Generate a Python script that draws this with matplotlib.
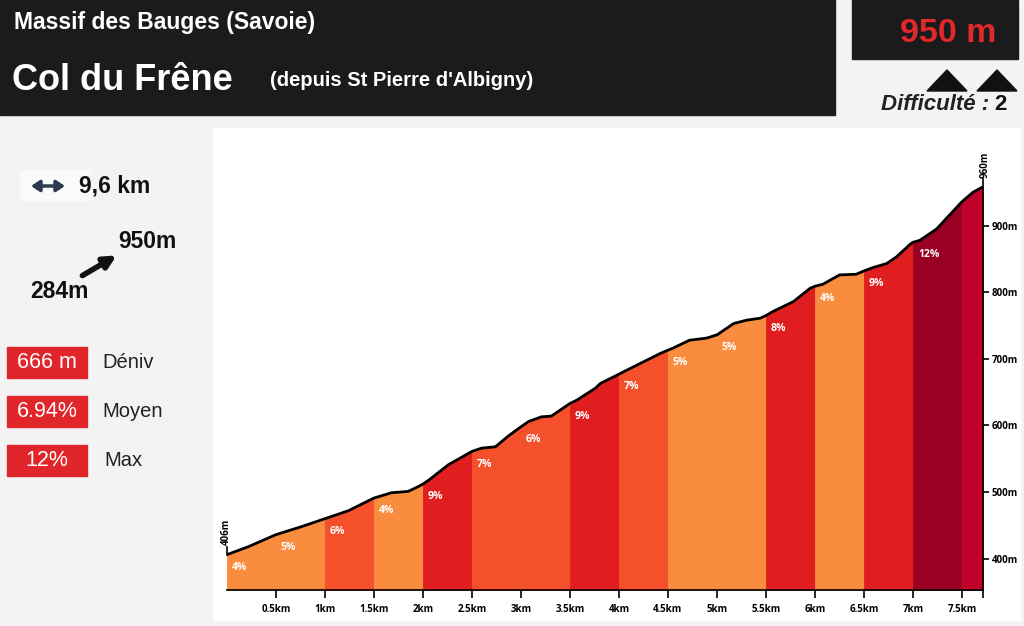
import numpy as np
import matplotlib.pyplot as plt
from matplotlib.patches import Rectangle, Polygon, FancyArrowPatch

# profile (km, m)
dist = [0.0, 0.22, 0.5, 0.76, 1.0, 1.24, 1.5, 1.68, 1.85, 1.95, 2.0, 2.06, 2.26,
        2.5, 2.6, 2.74, 2.87, 3.0, 3.08, 3.21, 3.31, 3.48, 3.5, 3.57, 3.76, 3.81,
        4.0, 4.08, 4.42, 4.5, 4.55, 4.72, 4.89, 5.0, 5.17, 5.3, 5.44, 5.5, 5.57,
        5.78, 5.95, 6.0, 6.08, 6.25, 6.42, 6.5, 6.59, 6.73, 6.83, 6.97, 7.0, 7.07,
        7.24, 7.48, 7.5, 7.61, 7.71]
elev = [406, 418, 436, 448, 460, 472, 491, 499, 501, 508, 512, 518, 541,
        561, 566, 568, 584, 598, 606, 613, 614, 631, 633, 638, 656, 663,
        677, 683, 708, 713, 716, 728, 731, 736, 753, 758, 761, 765, 771,
        786, 806, 809, 812, 826, 827, 832, 837, 843, 853, 872, 875, 878,
        895, 933, 936, 950, 958]

seg_start = [0, 0.5, 1, 1.5, 2, 2.5, 3, 3.5, 4, 4.5, 5, 5.5, 6, 6.5, 7, 7.5]
seg_end = seg_start[1:] + [7.71]
seg_label = ['4%', '5%', '6%', '4%', '9%', '7%', '6%', '9%', '7%', '5%', '5%',
             '8%', '4%', '9%', '12%', '']

ORANGE = '#F98C3E'
RORANGE = '#F5502C'
RED = '#E01E20'
MAROON = '#990022'
CRIMSON = '#C0022A'
seg_color = [ORANGE, ORANGE, RORANGE, ORANGE, RED, RORANGE, RORANGE, RED, RORANGE,
             ORANGE, ORANGE, RED, ORANGE, RED, MAROON, CRIMSON]

xticks = [0.5, 1, 1.5, 2, 2.5, 3, 3.5, 4, 4.5, 5, 5.5, 6, 6.5, 7, 7.5, 7.71]
xlabels = ['0.5km', '1km', '1.5km', '2km', '2.5km', '3km', '3.5km', '4km', '4.5km',
           '5km', '5.5km', '6km', '6.5km', '7km', '7.5km', '']
yticks = [400, 500, 600, 700, 800, 900]

W, H = 1024, 626
def fx(x):
    return x / W
def fy(y):
    return 1 - y / H

fig = plt.figure(figsize=(W / 100, H / 100), dpi=100)
fig.patch.set_facecolor('#F3F3F3')
FONT = 'Liberation Sans'

def box(x0, y0, x1, y1, c, z=-10):
    fig.patches.append(Rectangle((fx(x0), fy(y1)), fx(x1 - x0), (y1 - y0) / H,
                                 transform=fig.transFigure, color=c, zorder=z))

# panels
box(213, 128, 1020, 620, 'white')
box(0, 0, 835, 115, '#1B1A1D')
box(852, 0, 1018, 59, '#1B1A1D')
for x0 in [927, 977]:
    tri = [(fx(x0), fy(91)), (fx(x0 + 40), fy(91)), (fx(x0 + 20), fy(70))]
    fig.patches.append(Polygon(tri, closed=True, transform=fig.transFigure,
                               color='#111111'))

# header text
fig.text(fx(14), fy(22), 'Massif des Bauges (Savoie)', color='white', fontsize=16.5,
         fontweight='bold', family=FONT, va='center')
fig.text(fx(12), fy(80), 'Col du Frêne', color='white', fontsize=26,
         fontweight='bold', family=FONT, va='center')
fig.text(fx(270), fy(80), "(depuis St Pierre d'Albigny)", color='white', fontsize=14.5,
         fontweight='bold', family=FONT, va='center')
fig.text(fx(948), fy(33), '950 m', color='#E1282A', fontsize=24.5, fontweight='bold',
         family=FONT, va='center', ha='center')
fig.text(fx(989), fy(105), 'Difficulté :', color='#222222', fontsize=16,
         fontweight='bold', style='italic', family=FONT, va='center', ha='right')
fig.text(fx(994), fy(105), '2', color='#111111', fontsize=16, fontweight='bold',
         family=FONT, va='center', ha='left')

# left info panel
box(20, 170, 90, 200, '#F9FAFB')
fig.patches.append(FancyArrowPatch(
    (fx(31), fy(186)), (fx(65), fy(186)), transform=fig.transFigure,
    arrowstyle='<|-|>,head_length=0.45,head_width=0.3', mutation_scale=11, lw=2.5,
    shrinkA=0, shrinkB=0, color='#2B3A50'))
fig.text(fx(79), fy(186), '9,6 km', fontsize=16.5, fontweight='bold', family=FONT,
         va='center', color='#111111')
fig.text(fx(118), fy(242), '950m', fontsize=16.5, fontweight='bold', family=FONT,
         va='center', color='#111111')
fig.text(fx(30), fy(291), '284m', fontsize=16.5, fontweight='bold', family=FONT,
         va='center', color='#111111')
fig.patches.append(FancyArrowPatch(
    (fx(80), fy(277)), (fx(119), fy(254)), transform=fig.transFigure,
    arrowstyle='-|>', mutation_scale=18, lw=4, color='#111111'))

boxes = [(347, '666 m', 'Déniv', 102), (396, '6.94%', 'Moyen', 102), (445, '12%', 'Max', 104)]
for y0, val, name, nx in boxes:
    box(7, y0, 87, y0 + 31, '#E0262B', z=1)
    fig.text(fx(47), fy(y0 + 15.5), val, color='white', fontsize=15.5, family=FONT,
             va='center', ha='center', fontweight='medium')
    fig.text(fx(nx), fy(y0 + 15.5), name, color='#222222', fontsize=14.5, family=FONT,
             va='center')

# profile chart
ax = fig.add_axes([fx(226.8), fy(590), fx(982.7 - 226.8), (590 - 150) / H])
ax.patch.set_alpha(0)
d = np.array(dist)
e = np.array(elev)
for a, b, c, lab in zip(seg_start, seg_end, seg_color, seg_label):
    m = (d >= a) & (d <= b)
    ax.fill_between(d[m], 353, e[m], facecolor=c, edgecolor=c, lw=0.6, zorder=1)
    if lab:
        z = e[d == a][0]
        ax.text(a + 0.05, z - 19, lab, color='white', fontsize=7.5, fontweight='bold',
                family='Open Sans', ha='left', va='center', zorder=3)
ax.plot(d, e, color='black', lw=2, zorder=4, solid_capstyle='round')

# end markers
ax.plot([0, 0], [e[0], e[0] + 12], color='black', lw=1.2, zorder=4, clip_on=False)
ax.text(0, e[0] + 14, '406m', rotation=90, fontsize=7, fontweight='bold',
        family='Open Sans', ha='center', va='bottom')
ax.plot([d[-1], d[-1]], [e[-1], e[-1] + 12], color='black', lw=1.2, zorder=4,
        clip_on=False)
ax.text(d[-1] + 0.02, e[-1] + 14, '960m', rotation=90, fontsize=7, fontweight='bold',
        family='Open Sans', ha='center', va='bottom')

ax.set_xlim(0, 7.71)
ax.set_ylim(353, 1013.5)
for s in ['top', 'left']:
    ax.spines[s].set_visible(False)
ax.spines['bottom'].set_linewidth(1.2)
ax.spines['right'].set_linewidth(1.2)
ax.spines['right'].set_bounds(353, 958)
ax.set_xticks(xticks)
ax.set_xticklabels(xlabels)
ax.yaxis.tick_right()
ax.set_yticks(yticks)
ax.set_yticklabels([f'{v}m' for v in yticks])
ax.tick_params(axis='x', length=6, width=1.2, pad=4, labelsize=7)
ax.tick_params(axis='y', length=4.5, width=1.2, pad=2, labelsize=7)
for t in ax.get_xticklabels() + ax.get_yticklabels():
    t.set_fontweight('bold')
    t.set_family('Open Sans')

fig.savefig('out.png', dpi=100, facecolor=fig.get_facecolor())
